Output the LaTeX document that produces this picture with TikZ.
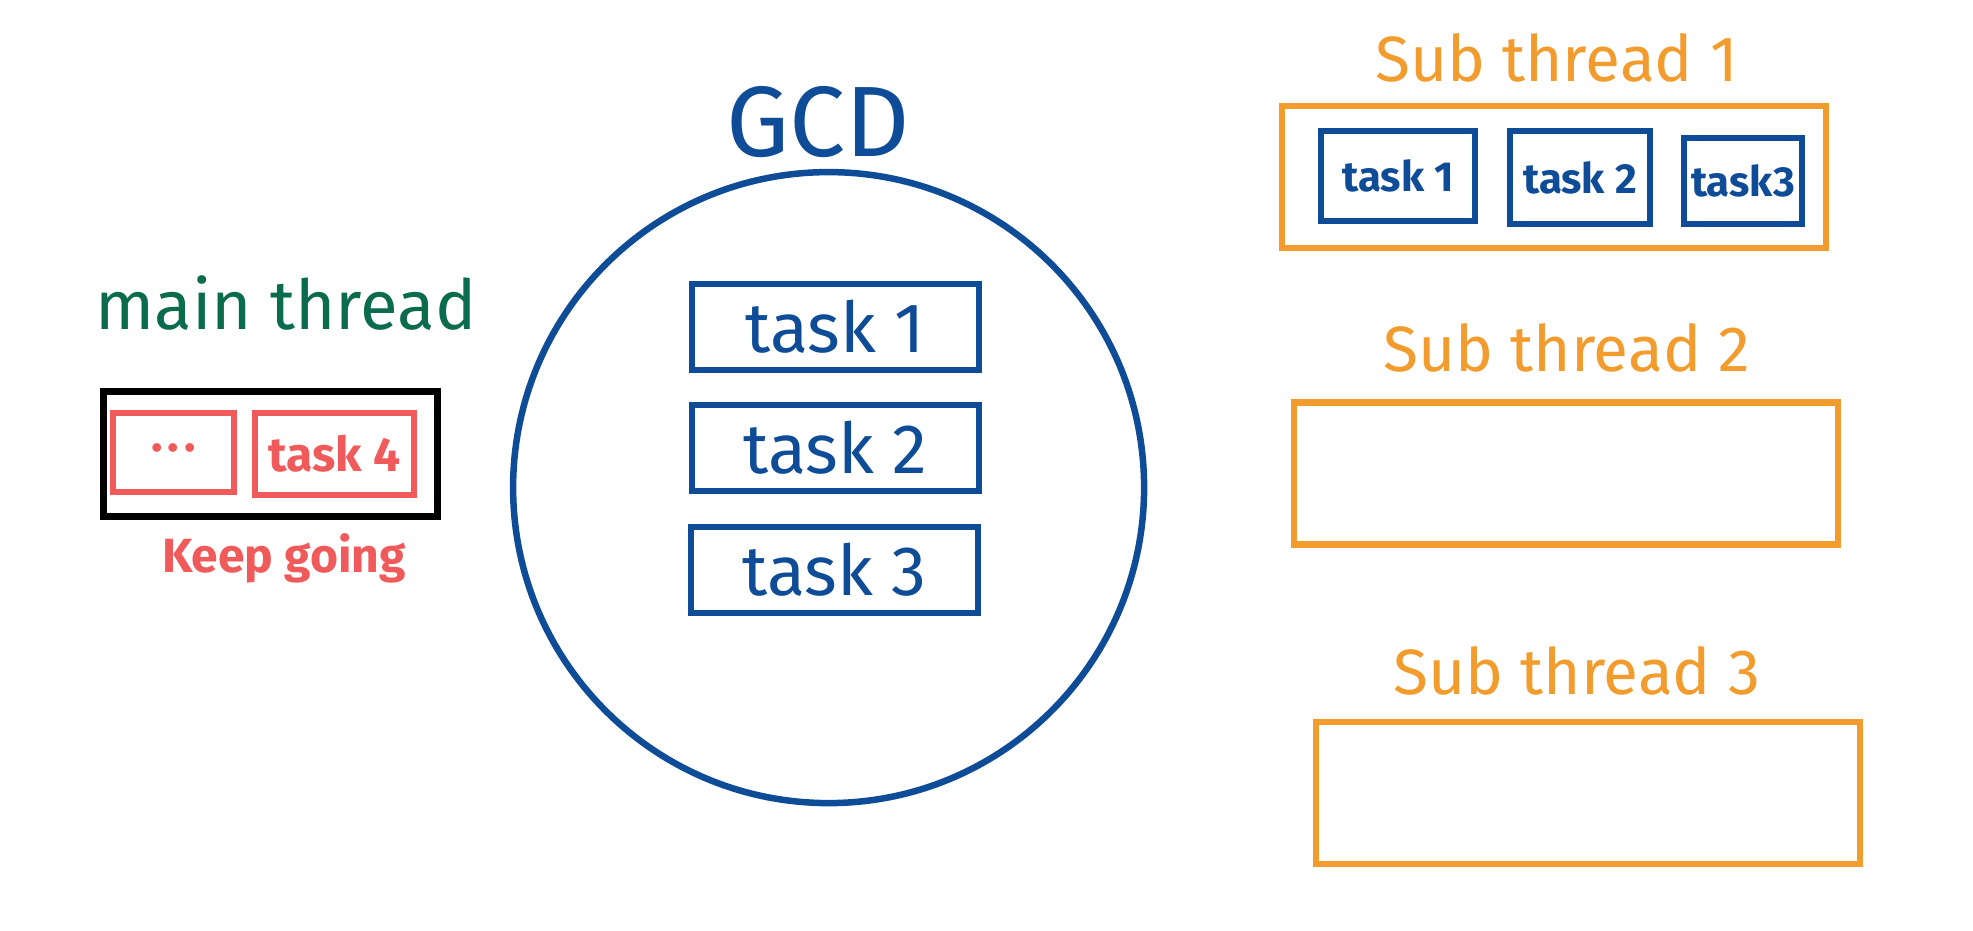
\documentclass[tikz,border=0pt]{standalone}
\usepackage{fontspec}
\setmainfont{Fira Sans}
\definecolor{gblue}{HTML}{0E4C97}
\definecolor{gorange}{HTML}{F29C2E}
\definecolor{gred}{HTML}{F05A5A}
\definecolor{ggreen}{HTML}{0A6C4C}
\begin{document}
\begin{tikzpicture}[x=1pt,y=-1pt,
  lbl/.style={inner sep=0pt,anchor=center},
  bluebox/.style={draw=gblue,line width=6.5pt,text=gblue,inner sep=0pt,anchor=center},
  orangebox/.style={draw=gorange,line width=6.5pt,inner sep=0pt,anchor=center,minimum width=544pt,minimum height=142pt},
  redbox/.style={draw=gred,line width=5.5pt,text=gred,inner sep=0pt,anchor=center},
  bigtask/.style={bluebox,minimum width=287pt,minimum height=86pt,font=\fontsize{70}{70}\selectfont},
  smalltask/.style={bluebox,font=\fontsize{42}{42}\selectfont\bfseries}
]
\useasboundingbox[fill=white] (0,0) rectangle (1973,931);
% GCD
\node[circle,draw=gblue,line width=6.5pt,minimum size=631pt,inner sep=0pt] (gcd) at (828.6,487.6) {};
\node[lbl,text=gblue,font=\fontsize{100}{100}\selectfont] (gcdlbl) at (818,122) {GCD};
\node[bigtask] (t1) at (835.5,327) {task 1};
\node[bigtask] (t2) at (835.5,448) {task 2};
\node[bigtask] (t3) at (834.5,570) {task 3};
% main thread
\node[lbl,text=ggreen,font=\fontsize{69}{69}\selectfont] (mainlbl) at (286,303) {main thread};
\node[draw=black,line width=7pt,minimum width=334pt,minimum height=125pt,inner sep=0pt] (mainbox) at (270,453.5) {};
\node[redbox,minimum width=121pt,minimum height=79pt,font=\fontsize{48}{48}\selectfont\bfseries] (dots) at (173.5,452.5) {\raisebox{0.35ex}{.\hspace{5pt}.\hspace{5pt}.}};
\node[redbox,minimum width=159pt,minimum height=82pt,font=\fontsize{48}{48}\selectfont\bfseries] (t4) at (334.5,454) {task 4};
\node[lbl,text=gred,font=\fontsize{48}{48}\selectfont\bfseries] (keep) at (284,558) {Keep going};
% sub threads
\node[lbl,text=gorange,font=\fontsize{64}{64}\selectfont] (s1lbl) at (1556.5,58) {Sub thread 1};
\node[orangebox] (s1) at (1554,177) {};
\node[smalltask,minimum width=154pt,minimum height=90pt] (s1t1) at (1398,176) {task 1};
\node[smalltask,minimum width=140pt,minimum height=93pt] (s1t2) at (1580,177.5) {task 2};
\node[smalltask,minimum width=118pt,minimum height=86pt] (s1t3) at (1743,181) {task3};
\node[lbl,text=gorange,font=\fontsize{64}{64}\selectfont] (s2lbl) at (1566.6,348) {Sub thread 2};
\node[orangebox] (s2) at (1566,473.7) {};
\node[lbl,text=gorange,font=\fontsize{64}{64}\selectfont] (s3lbl) at (1576.7,671) {Sub thread 3};
\node[orangebox] (s3) at (1588,793) {};
\end{tikzpicture}
\end{document}
